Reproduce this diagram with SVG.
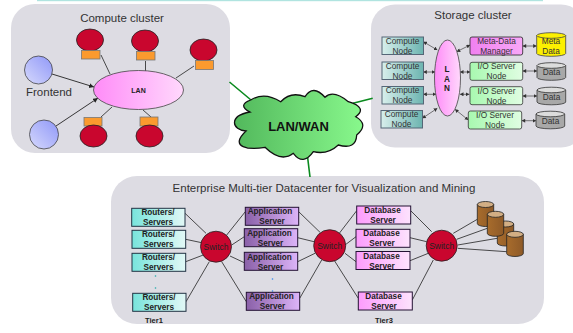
<svg xmlns="http://www.w3.org/2000/svg" width="573" height="333" viewBox="0 0 573 333">
<style>
text{font-family:"Liberation Sans",Arial,sans-serif;text-anchor:middle;fill:#222}
.title{font-size:11.500px;fill:#333}
.n{font-size:8.300px;fill:#333}
.b{font-size:8.200px;font-weight:bold;fill:#222}
.sw{font-size:8.500px;fill:#222}
.panel{fill:#dddce3}
.red{fill:#c9062e;stroke:#222;stroke-width:.8}
.or{fill:#fb9a2e;stroke:#777;stroke-width:.8}
.blue{fill:url(#gBlue);stroke:#444;stroke-width:.8}
.lan{fill:url(#gLan);stroke:#444;stroke-width:.8}
.cn{fill:url(#gCn);stroke:#567;stroke-width:1}
.meta{fill:url(#gMeta);stroke:#222;stroke-width:.8}
.io{fill:url(#gIo);stroke:#333;stroke-width:.8}
.rt{fill:url(#gRt);stroke:#234;stroke-width:1}
.ap{fill:url(#gAp);stroke:#213;stroke-width:1}
.db{fill:url(#gDb);stroke:#213;stroke-width:1}
.l{stroke:#222;stroke-width:.8;fill:none}
.a{stroke:#222;stroke-width:.9;fill:none;marker-end:url(#arr)}
.d{stroke:#444;stroke-width:.7;fill:none;marker-start:url(#arrS);marker-end:url(#arrE)}
.g{stroke:#0a8a1e;stroke-width:1.600;fill:none}
</style>
<defs>
<marker id="arr" markerWidth="6" markerHeight="6" refX="5" refY="2.500" orient="auto" markerUnits="userSpaceOnUse"><path d="M0 0L5 2.500L0 5z" fill="#222"/></marker>
<marker id="arrE" markerWidth="4" markerHeight="4" refX="3.500" refY="2" orient="auto" markerUnits="userSpaceOnUse"><path d="M0 0L3.500 2L0 4z" fill="#333"/></marker>
<marker id="arrS" markerWidth="4" markerHeight="4" refX="0" refY="2" orient="auto" markerUnits="userSpaceOnUse"><path d="M3.500 0L0 2L3.500 4z" fill="#333"/></marker>
<linearGradient id="gBlue" x1="1" y1="0" x2="0" y2="1"><stop offset="0" stop-color="#8f97f8"/><stop offset="1" stop-color="#d6d9fc"/></linearGradient>
<linearGradient id="gLan"><stop offset="0" stop-color="#ff8cf8"/><stop offset="1" stop-color="#ffd8fc"/></linearGradient>
<linearGradient id="gCn"><stop offset="0" stop-color="#d8efec"/><stop offset="1" stop-color="#6cb4b0"/></linearGradient>
<linearGradient id="gMeta"><stop offset="0" stop-color="#f080f0"/><stop offset="1" stop-color="#f8a8f8"/></linearGradient>
<linearGradient id="gIo"><stop offset="0" stop-color="#a8f8b0"/><stop offset="1" stop-color="#e0fde2"/></linearGradient>
<linearGradient id="gRt"><stop offset="0" stop-color="#78e4dc"/><stop offset="1" stop-color="#e2f8f6"/></linearGradient>
<linearGradient id="gAp"><stop offset="0" stop-color="#8a60a8"/><stop offset="1" stop-color="#dcb4f8"/></linearGradient>
<linearGradient id="gDb"><stop offset="0" stop-color="#fc9cfc"/><stop offset="1" stop-color="#fde2fd"/></linearGradient>
<linearGradient id="gCloud"><stop offset="0" stop-color="#52b85c"/><stop offset="1" stop-color="#88f88c"/></linearGradient>
<linearGradient id="gCyl"><stop offset="0" stop-color="#a86c2c"/><stop offset="1" stop-color="#8e5a28"/></linearGradient>
</defs>

<rect x="37" y="0" width="506" height="1.200" fill="#b0e4e0"/>
<rect class="panel" x="11" y="4" width="219" height="149" rx="24"/>
<rect class="panel" x="371" y="4.500" width="214" height="143" rx="24"/>
<rect class="panel" x="111" y="176" width="433" height="148" rx="26"/>

<g id="connectors">
<path class="g" d="M229.500 82L251 100M372.700 98.300L353 103.300M307.700 158L310 177"/>
<path class="l" d="M101 55L110 74M145.500 61V71M194 66L176 78M112 107L101 117M143 110L151 117"/>
<path class="a" d="M52 74L94 87"/>
<path class="a" d="M56 126L98 98"/>
<path class="d" d="M423.300 41.700L437.300 50"/>
<path class="d" d="M423.300 72H435"/>
<path class="d" d="M423.300 94.300H436"/>
<path class="d" d="M422.300 118.300L437.300 108.300"/>
<path class="d" d="M456.700 51.700L470 45"/>
<path class="d" d="M460 72H470"/>
<path class="d" d="M460 94.300H469.300"/>
<path class="d" d="M455 109.300L468.300 120"/>
<path class="d" d="M522.700 46H536.700"/>
<path class="d" d="M522.700 71H537"/>
<path class="d" d="M522.700 96H537"/>
<path class="d" d="M521.700 120.700H536"/>
<path class="l" d="M185 213.300L206 233.300M185.700 239.300L201.700 242.700M185.700 261.700L203.300 255M186 301.700L209.300 261.700"/>
<path class="l" d="M226.700 235L245.300 211.700M231.700 245L244.300 236.700M230 256L244.300 262.700M221.700 261.700L246.300 301.700"/>
<path class="l" d="M298.700 211.700L320 232.300M297.700 237.700L314 241.700M297.700 261.700L315 253.300M299.700 298.300L321.700 260"/>
<path class="l" d="M339.300 233.300L356.700 210.700M345 245L356 236.700M345 253.300L356 261.700M334 260L358.300 298.300"/>
<path class="l" d="M410.700 210.700L431.700 231.700M410 237.700L426.700 241.700M410 260.700L428.300 253.300M412.300 300L433.300 260"/>
<path class="l" d="M453.300 233.300L477.300 219.300M456.700 239.300L487.300 228.300M457.700 245L497.300 238.300M457.700 248.300L506.700 251.700"/>
</g>

<text class="title" x="122" y="22">Compute cluster</text>
<text class="title" x="473" y="19">Storage cluster</text>
<text class="title" x="324" y="192">Enterprise Multi-tier Datacenter for Visualization and Mining</text>

<g id="cloud"><path d="M250.700 100Q264.300 91.300 280.700 101.700Q290.700 91 305 96.700Q313 84 325 97.300Q333.300 89.300 348.300 101.700Q368 107.700 355.700 116.700Q369.300 124.300 356.700 135Q356 150 338.300 145Q327.700 155 313.300 151.700Q303.300 166.300 293.300 153.300Q281 163 265 147.300C250 150 228 148 246 131C232 130 228 116 250 112Q237 105 250.700 100Z" fill="url(#gCloud)" stroke="#111" stroke-width="1.300"/><text x="298.500" y="130.500" style="font-size:13px;font-weight:bold;fill:#111">LAN/WAN</text></g>

<g id="c-top1"><ellipse class="red" cx="90" cy="40" rx="13.500" ry="11"/><rect class="or" x="81.500" y="50.500" width="18.500" height="8.500"/></g>
<g id="c-top2"><ellipse class="red" cx="145" cy="41" rx="13.500" ry="11"/><rect class="or" x="136.500" y="51.500" width="18.500" height="8.500"/></g>
<g id="c-top3"><ellipse class="red" cx="203.500" cy="50" rx="13.500" ry="11"/><rect class="or" x="195.500" y="60.500" width="18" height="9"/></g>
<g id="c-bot1"><rect class="or" x="84" y="117.500" width="18" height="8.500"/><ellipse class="red" cx="93.500" cy="136" rx="13.500" ry="11"/></g>
<g id="c-bot2"><rect class="or" x="140" y="117" width="18" height="9"/><ellipse class="red" cx="149.500" cy="136" rx="13.500" ry="11"/></g>
<g id="frontend"><circle class="blue" cx="38.500" cy="70" r="14"/><text class="title" x="49" y="96">Frontend</text></g>
<g id="c-blue2"><circle class="blue" cx="44" cy="134.500" r="14.500"/></g>
<g id="c-lan"><ellipse class="lan" cx="138.500" cy="90" rx="45" ry="19.500"/><text x="138.500" y="93" style="font-size:7px;font-weight:bold;fill:#222">LAN</text></g>

<g id="s-lan"><ellipse class="lan" cx="447.500" cy="78" rx="13" ry="38"/><text x="447" y="72" class="b">L</text><text x="447" y="81.500" class="b">A</text><text x="447" y="91" class="b">N</text></g>
<g id="cn1"><rect class="cn" x="382" y="37" width="41.500" height="17.500"/><text class="n" x="402.500" y="44">Compute</text><text class="n" x="402.500" y="54">Node</text></g>
<g id="cn2"><rect class="cn" x="382" y="62" width="41.500" height="17.500"/><text class="n" x="402.500" y="69">Compute</text><text class="n" x="402.500" y="79">Node</text></g>
<g id="cn3"><rect class="cn" x="382" y="86.500" width="41.500" height="17.500"/><text class="n" x="402.500" y="93">Compute</text><text class="n" x="402.500" y="103">Node</text></g>
<g id="cn4"><rect class="cn" x="381" y="110.500" width="41.500" height="17.500"/><text class="n" x="401.500" y="117">Compute</text><text class="n" x="401.500" y="127">Node</text></g>
<g id="meta-mgr"><rect class="meta" x="470" y="37" width="52.700" height="18" rx="2"/><text class="n" x="496.500" y="44">Meta-Data</text><text class="n" x="496.500" y="54">Manager</text></g>
<g id="io1"><rect class="io" x="470" y="62.300" width="52.700" height="18" rx="2"/><text class="n" x="496.500" y="69">I/O Server</text><text class="n" x="496.500" y="79">Node</text></g>
<g id="io2"><rect class="io" x="470" y="86.700" width="52.700" height="18" rx="2"/><text class="n" x="496.500" y="94">I/O Server</text><text class="n" x="496.500" y="104">Node</text></g>
<g id="io3"><rect class="io" x="468.300" y="111" width="53.400" height="18" rx="2"/><text class="n" x="495" y="118">I/O Server</text><text class="n" x="495" y="128">Node</text></g>
<g id="d-meta"><path d="M536.700 35.500V53.500A14.500 2.800 0 0 0 565.700 53.500V35.500Z" fill="#fcf000" stroke="#444" stroke-width=".8"/><ellipse cx="551.200" cy="35.500" rx="14.500" ry="2.800" fill="#fcf000" stroke="#444" stroke-width=".8"/><text class="n" x="551" y="44">Meta</text><text class="n" x="551" y="54">Data</text></g>
<g id="d1"><path d="M537 65.500V77.500A14.300 2.800 0 0 0 565.700 77.500V65.500Z" fill="#a8a8a8" stroke="#333" stroke-width=".8"/><ellipse cx="551.300" cy="65.500" rx="14.300" ry="2.800" fill="#dcdcdc" stroke="#333" stroke-width=".8"/><text class="n" x="551.500" y="75">Data</text></g>
<g id="d2"><path d="M537 90V102A14.300 2.800 0 0 0 565.700 102V90Z" fill="#a8a8a8" stroke="#333" stroke-width=".8"/><ellipse cx="551.300" cy="90" rx="14.300" ry="2.800" fill="#dcdcdc" stroke="#333" stroke-width=".8"/><text class="n" x="551.500" y="100">Data</text></g>
<g id="d3"><path d="M536 114V126A14.300 2.800 0 0 0 564.700 126V114Z" fill="#a8a8a8" stroke="#333" stroke-width=".8"/><ellipse cx="550.300" cy="114" rx="14.300" ry="2.800" fill="#dcdcdc" stroke="#333" stroke-width=".8"/><text class="n" x="550.500" y="124">Data</text></g>

<g id="r1"><rect class="rt" x="131.700" y="208.300" width="53.300" height="18"/><text class="b" x="158" y="215">Routers/</text><text class="b" x="158" y="225">Servers</text></g>
<g id="r2"><rect class="rt" x="132" y="230.300" width="53.700" height="18"/><text class="b" x="158.500" y="237">Routers/</text><text class="b" x="158.500" y="247">Servers</text></g>
<g id="r3"><rect class="rt" x="132" y="253.300" width="53.700" height="18"/><text class="b" x="158.500" y="260">Routers/</text><text class="b" x="158.500" y="270">Servers</text></g>
<g id="r4"><rect class="rt" x="132.700" y="293.300" width="53.300" height="18"/><text class="b" x="159" y="300">Routers/</text><text class="b" x="159" y="310">Servers</text></g>
<circle cx="155.500" cy="276" r=".8" fill="#2aa"/><circle cx="155.500" cy="288" r=".8" fill="#2aa"/>
<circle cx="272.500" cy="279" r=".8" fill="#38e"/><circle cx="272.500" cy="291" r=".8" fill="#38e"/>
<g id="sw1"><circle class="red" cx="216" cy="246.700" r="15.500"/><text class="sw" x="216" y="250">Switch</text></g>
<g id="a1"><rect class="ap" x="245.300" y="207.300" width="53.400" height="18"/><text class="b" x="270" y="214">Application</text><text class="b" x="272" y="224">Server</text></g>
<g id="a2"><rect class="ap" x="244.300" y="228.700" width="53.400" height="18"/><text class="b" x="269.500" y="236">Application</text><text class="b" x="270.500" y="246">Server</text></g>
<g id="a3"><rect class="ap" x="244.300" y="252.300" width="53.400" height="18"/><text class="b" x="269.500" y="260">Application</text><text class="b" x="270.500" y="270">Server</text></g>
<g id="a4"><rect class="ap" x="246.300" y="292.300" width="53.400" height="18"/><text class="b" x="271.500" y="299">Application</text><text class="b" x="272.500" y="309">Server</text></g>
<g id="sw2"><circle class="red" cx="329.700" cy="245.700" r="16"/><text class="sw" x="329.700" y="249">Switch</text></g>
<g id="db1"><rect class="db" x="356.700" y="206" width="54" height="18"/><text class="b" x="382.500" y="213">Database</text><text class="b" x="383" y="223">Server</text></g>
<g id="db2"><rect class="db" x="356" y="229.300" width="54" height="18"/><text class="b" x="381.500" y="236">Database</text><text class="b" x="382" y="246">Server</text></g>
<g id="db3"><rect class="db" x="356" y="251.500" width="54" height="18"/><text class="b" x="381.500" y="259">Database</text><text class="b" x="382" y="269">Server</text></g>
<g id="db4"><rect class="db" x="358.300" y="292" width="54" height="18"/><text class="b" x="383.500" y="299">Database</text><text class="b" x="384" y="309">Server</text></g>
<g id="sw3"><circle class="red" cx="441.700" cy="245.700" r="15.500"/><text class="sw" x="441.700" y="249">Switch</text></g>
<g id="cyl1"><path d="M477.300 204.500V223.500A8.200 3 0 0 0 493.700 223.500V204.500Z" fill="url(#gCyl)" stroke="#222" stroke-width=".8"/><ellipse cx="485.500" cy="204.500" rx="8.200" ry="3" fill="#d2ae84" stroke="#222" stroke-width=".8"/></g>
<g id="cyl3"><path d="M497.300 224V243A8.200 3 0 0 0 513.700 243V224Z" fill="url(#gCyl)" stroke="#222" stroke-width=".8"/><ellipse cx="505.500" cy="224" rx="8.200" ry="3" fill="#d2ae84" stroke="#222" stroke-width=".8"/></g>
<g id="cyl2"><path d="M487.300 214.300V233.300A8.200 3 0 0 0 503.700 233.300V214.300Z" fill="url(#gCyl)" stroke="#222" stroke-width=".8"/><ellipse cx="495.500" cy="214.300" rx="8.200" ry="3" fill="#d2ae84" stroke="#222" stroke-width=".8"/></g>
<g id="cyl4"><path d="M506.700 234.300V253.500A8.300 3 0 0 0 523.300 253.500V234.300Z" fill="url(#gCyl)" stroke="#222" stroke-width=".8"/><ellipse cx="515" cy="234.300" rx="8.300" ry="3" fill="#d2ae84" stroke="#222" stroke-width=".8"/></g>
<text x="154" y="323" style="font-size:7.500px;font-weight:bold;fill:#222">Tier1</text>
<text x="384" y="322.500" style="font-size:7.500px;font-weight:bold;fill:#222">Tier3</text>
</svg>
